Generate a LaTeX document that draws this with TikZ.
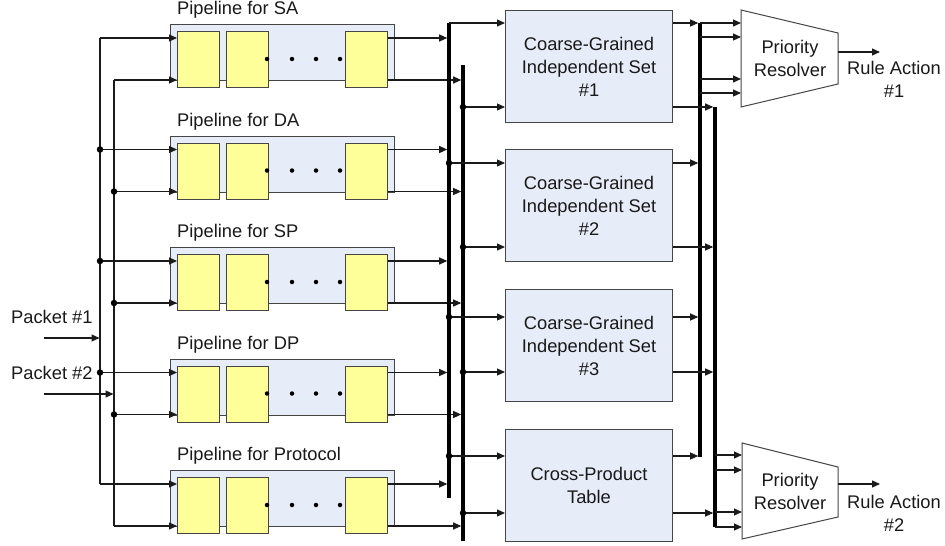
\documentclass[tikz,border=0pt]{standalone}
\usepackage{fontspec}
\setmainfont{Liberation Sans}
\usetikzlibrary{arrows.meta,calc}
\definecolor{paneblue}{HTML}{E6ECF8}
\definecolor{stageyellow}{HTML}{FFFF99}
\definecolor{edgegray}{HTML}{454545}
\definecolor{wirecol}{HTML}{1A1A1A}
\begin{document}
\begin{tikzpicture}[x=1pt,y=-1pt,
  lbl/.style={font=\fontsize{18.3}{23}\selectfont, inner sep=0pt, align=center, text=black!90},
  wire/.style={line width=1.1pt, draw=wirecol},
  arr/.style={wire, -{Triangle[length=8pt,width=7pt]}},
  bus/.style={line width=3.6pt, line cap=butt, draw=black},
  pipebox/.style={draw=edgegray, fill=paneblue, line width=1pt, minimum width=224pt,
    minimum height=56pt, inner sep=0pt, anchor=north west},
  stagebox/.style={draw=edgegray, fill=stageyellow, line width=1pt, minimum width=42pt,
    minimum height=56pt, inner sep=0pt, anchor=north west},
  setbox/.style={draw=edgegray, fill=paneblue, line width=1pt, minimum width=167pt,
    minimum height=112pt, inner sep=0pt, anchor=north west, lbl},
  resolver/.style={draw=edgegray, fill=white, line width=1pt, line join=miter},
  tap/.style={circle, fill=black, inner sep=0pt, minimum size=6.5pt},
  ell/.style={circle, fill=black, inner sep=0pt, minimum size=4.5pt},
]
\useasboundingbox (0,0) rectangle (945,546);

% ---------- field pipelines ----------
\foreach \k/\name in {0/SA,1/DA,2/SP,3/DP,4/Protocol} {
  \pgfmathsetmacro\T{24+111.5*\k}
  \node[pipebox] (pipe\k) at (170,\T) {};
  \node[lbl, anchor=west] (title\k) at (177,\T-14) {Pipeline for \name};
  \node[stagebox] (st\k-a) at (177,\T+7) {};
  \node[stagebox] (st\k-b) at (226,\T+7) {};
  \node[stagebox] (st\k-c) at (345,\T+7) {};
  \node[ell] (dot\k-1) at (267,\T+35) {};
  \node[ell] (dot\k-2) at (292,\T+35) {};
  \node[ell] (dot\k-3) at (316,\T+35) {};
  \node[ell] (dot\k-4) at (340,\T+35) {};
  \coordinate (hi\k) at (100,\T+14);
  \coordinate (lo\k) at (114,\T+56);
}

% ---------- buses ----------
\coordinate (b1t) at (449,23);  \coordinate (b1b) at (449,498);
\coordinate (b2t) at (463,65);  \coordinate (b2b) at (463,541);
\coordinate (b3t) at (700,23);  \coordinate (b3b) at (700,457);
\coordinate (b4t) at (715,107); \coordinate (b4b) at (715,527);
% left faces of the buses, where arrow tips stop
\coordinate (b1e) at (447.2,0);
\coordinate (b2e) at (461.2,0);
\coordinate (b3e) at (698.2,0);
\coordinate (b4e) at (713.2,0);

% ---------- packet inputs and feed lines ----------
\node[lbl, anchor=west] (pkt1) at (11,317) {Packet \#1};
\node[lbl, anchor=west] (pkt2) at (11,373) {Packet \#2};
\coordinate (pkt1src) at (44,338);
\coordinate (pkt2src) at (44,394);
\draw[wire] (hi0) -- (hi4);
\draw[wire] (lo0) -- (lo4);
\draw[arr] (pkt1src) -- ($(pkt1src -| hi0)+(-0.5,0)$);
\draw[arr] (pkt2src) -- ($(pkt2src -| lo0)+(-0.5,0)$);

\foreach \k in {0,...,4} {
  \draw[arr] (hi\k) -- (hi\k -| st\k-a.west);
  \draw[arr] (lo\k) -- (lo\k -| st\k-a.west);
  \draw[arr] (hi\k -| st\k-c.east) -- (hi\k -| b1e);
  \draw[arr] (lo\k -| st\k-c.east) -- (lo\k -| b2e);
}
\foreach \k in {1,2,3} {
  \node[tap] at (hi\k) {};
  \node[tap] at (lo\k) {};
}

% ---------- matching blocks ----------
\node[setbox] (cg1) at (505,10)  {Coarse-Grained\\Independent Set\\\#1};
\node[setbox] (cg2) at (505,149) {Coarse-Grained\\Independent Set\\\#2};
\node[setbox] (cg3) at (505,289) {Coarse-Grained\\Independent Set\\\#3};
\node[setbox] (cp)  at (505,429) {Cross-Product\\Table};

\draw[bus] (b1t) -- (b1b);
\draw[bus] (b2t) -- (b2b);
\draw[bus] (b3t) -- (b3b);
\draw[bus] (b4t) -- (b4b);

% inputs from the buses into the blocks
\foreach \y/\n in {23/cg1,163/cg2,317/cg3,456/cp} {
  \coordinate (ia\n) at (449,\y);
  \draw[arr] (ia\n) -- (ia\n -| \n.west);
}
\foreach \y/\n in {107/cg1,247/cg2,372/cg3,513/cp} {
  \coordinate (ib\n) at (463,\y);
  \draw[arr] (ib\n) -- (ib\n -| \n.west);
}
\foreach \n in {cg2,cg3,cp} \node[tap] at (ia\n) {};
\foreach \n in {cg1,cg2,cg3,cp} \node[tap] at (ib\n) {};

% outputs from the blocks onto the right buses
\foreach \y/\n in {23/cg1,163/cg2,317/cg3,456/cp} {
  \coordinate (oa\n) at (0,\y);
  \draw[arr] (oa\n -| \n.east) -- (oa\n -| b3e);
}
\foreach \y/\n in {107/cg1,247/cg2,372/cg3,513/cp} {
  \coordinate (ob\n) at (0,\y);
  \draw[arr] (ob\n -| \n.east) -- (ob\n -| b4e);
}

% ---------- priority resolvers ----------
\draw[resolver] (741,10) coordinate (pr1nw) -- (838,33) -- (838,84) -- (741,107) -- cycle;
\node[lbl] (pr1) at (790,58.5) {Priority\\Resolver};
\draw[resolver] (742,443) coordinate (pr2nw) -- (838,467) -- (838,517) -- (742,539) -- cycle;
\node[lbl] (pr2) at (790,491.5) {Priority\\Resolver};

\foreach \y in {23,37,79,93} {
  \coordinate (r1in\y) at (700,\y);
  \draw[arr] (r1in\y) -- (r1in\y -| pr1nw);
}
\foreach \y in {455,470,512,527} {
  \coordinate (r2in\y) at (715,\y);
  \draw[arr] (r2in\y) -- (r2in\y -| pr2nw);
}

\coordinate (pr1out) at (838,52);
\coordinate (act1tip) at (880,52);
\draw[arr] (pr1out) -- (act1tip);
\node[lbl] (act1) at (894,79.5) {Rule Action\\\#1};

\coordinate (pr2out) at (838,484);
\coordinate (act2tip) at (880,484);
\draw[arr] (pr2out) -- (act2tip);
\node[lbl] (act2) at (894,513) {Rule Action\\\#2};
\end{tikzpicture}
\end{document}
